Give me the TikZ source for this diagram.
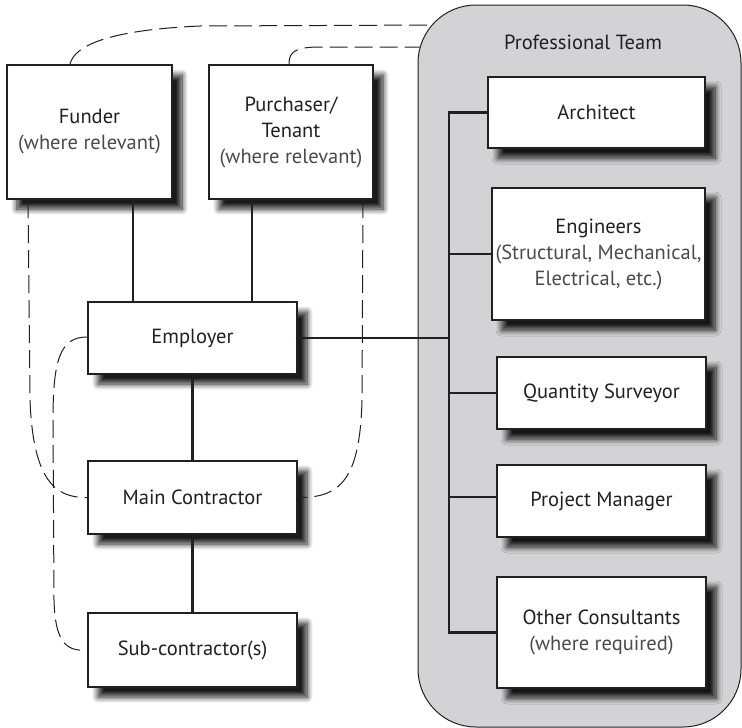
\documentclass[tikz,border=0pt]{standalone}
\usepackage{fontspec}
\setmainfont{PT Sans}
\usetikzlibrary{shadows.blur}
\definecolor{teamgray}{HTML}{D3D3D5}
\definecolor{subgray}{HTML}{4A4A4A}
\definecolor{ink}{HTML}{231F20}
\definecolor{shadowgray}{HTML}{3A3A3C}
\begin{document}
\begin{tikzpicture}[x=1pt,y=-1pt,
  box/.style={draw=ink, line width=2.2pt, fill=white, align=center,
    font=\fontsize{20.5}{26}\selectfont, text=ink, inner sep=0pt,
    blur shadow={shadow xshift=10pt, shadow yshift=-10pt, shadow blur radius=6pt,
      shadow opacity=90, shadow blur steps=10}},
  link/.style={draw=ink, line width=2.8pt},
  dashlink/.style={draw=ink, line width=1pt, dash pattern=on 18pt off 7pt}
]
\useasboundingbox (0,0) rectangle (742,728);

% left-side nodes
\node[box, minimum width=165pt, minimum height=134pt] (funder) at (89.5,132)
  {Funder\\\textcolor{subgray}{(where relevant)}};
\node[box, minimum width=164pt, minimum height=134pt] (purch) at (291,132)
  {Purchaser/\\Tenant\\\textcolor{subgray}{(where relevant)}};
\node[box, minimum width=209pt, minimum height=72pt] (employer) at (192.5,338) {Employer};
\node[box, minimum width=209pt, minimum height=73pt] (main) at (192.5,497.5) {Main Contractor};
\node[box, minimum width=209pt, minimum height=74pt] (subc) at (192.5,650) {Sub-contractor(s)};

% dashed relations (drawn before the team panel so the panel covers their ends)
\draw[dashlink] ([xshift=-19.5pt]funder.north) .. controls (75,45) and (110,30) .. (200,26) -- (445,25);
\draw[dashlink] ([xshift=-2pt]purch.north) .. controls (289,52) and (295,47) .. (320,47) -- (445,47);
\draw[dashlink] ([xshift=-61.5pt]funder.south) -- (30,400) .. controls (33,480) and (55,498) .. (main.west);
\draw[dashlink] ([xshift=72pt]purch.south) -- (362,400) .. controls (360,480) and (340,498) .. (main.east);
\draw[dashlink] ([yshift=1pt]employer.west) .. controls (60,337) and (53,360) .. (53,420) -- (54,600) .. controls (55,640) and (65,652) .. (subc.west);

% team panel
\node[draw=ink, line width=1pt, fill=teamgray, rounded corners=58pt,
  minimum width=323pt, minimum height=722pt, inner sep=0pt] (team) at (579.5,366) {};
\node[font=\fontsize{20.5}{26}\selectfont, text=ink] (teamlabel) at (583,42) {Professional Team};

\node[box, minimum width=217pt, minimum height=71pt] (arch) at (596.5,112.5) {Architect};
\node[box, minimum width=213pt, minimum height=132pt] (eng) at (598.5,254)
  {Engineers\\\textcolor{subgray}{(Structural, Mechanical,}\\\textcolor{subgray}{Electrical, etc.)}};
\node[box, minimum width=209pt, minimum height=72pt] (qs) at (601.5,393) {Quantity Surveyor};
\node[box, minimum width=209pt, minimum height=72pt] (pm) at (601.5,501) {Project Manager};
\node[box, minimum width=209pt, minimum height=111pt] (oc) at (601.5,632.5)
  {Other Consultants\\\textcolor{subgray}{(where required)}};

\coordinate (bustop) at (449,112.5);
\coordinate (busbot) at (449,632.5);

% solid connectors
\draw[link] (funder.south -| 133,0) -- (employer.north -| 133,0);
\draw[link] (purch.south -| 252,0) -- (employer.north -| 252,0);
\draw[link] (employer.south) -- (main.north);
\draw[link] (main.south) -- (subc.north);
\draw[link] (employer.east) -- (employer.east -| bustop);
\draw[link, line cap=rect] (bustop) -- (busbot);
\draw[link] (bustop) -- (arch.west);
\draw[link] (eng.west -| bustop) -- (eng.west);
\draw[link] (qs.west -| bustop) -- (qs.west);
\draw[link] ([yshift=4pt]pm.west -| bustop) -- ([yshift=4pt]pm.west);
\draw[link] (busbot) -- (oc.west);
\end{tikzpicture}
\end{document}
